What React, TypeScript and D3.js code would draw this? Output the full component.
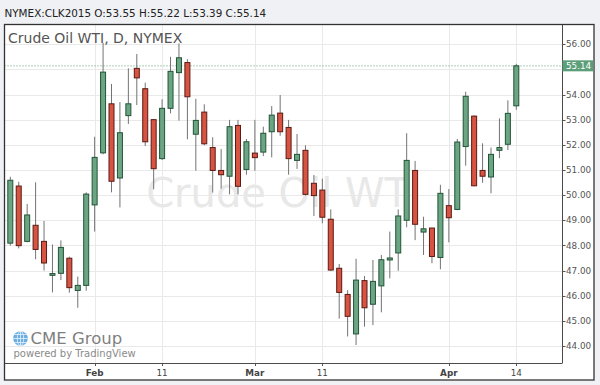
import React from "react";
import * as d3 from "d3";

// OHLC series (index-based trading days)
const opens = [48.09, 50.36, 48.16, 48.80, 48.16, 46.81, 46.89, 47.49, 46.21, 46.41,
  49.61, 51.68, 53.63, 50.68, 53.16, 55.04, 54.23, 53.00, 51.45, 53.45,
  54.87, 55.27, 52.42, 53.30, 51.89, 50.98, 50.75, 52.77, 51.02, 51.67,
  51.71, 52.52, 53.26, 52.69, 51.38, 51.78, 50.47, 50.20, 49.04, 47.09,
  46.05, 44.48, 46.60, 45.66, 46.39, 47.42, 47.70, 49.00, 50.98, 48.53,
  48.69, 47.52, 49.58, 49.43, 51.93, 53.14, 50.98, 50.72, 51.78, 52.02, 53.55];
const highs = [50.73, 50.53, 49.65, 50.51, 48.97, 48.04, 48.20, 47.55, 46.76, 50.11,
  52.32, 56.05, 54.42, 53.70, 55.04, 55.61, 54.47, 53.02, 53.81, 55.50,
  56.03, 55.40, 53.83, 53.61, 52.30, 51.83, 52.99, 52.99, 52.23, 52.99,
  52.72, 53.54, 53.98, 52.99, 52.43, 51.98, 50.80, 50.65, 49.43, 47.26,
  46.22, 47.47, 46.78, 47.42, 47.62, 48.55, 49.43, 52.46, 51.36, 49.14,
  48.70, 50.41, 50.24, 52.23, 54.11, 53.17, 52.06, 51.89, 53.05, 53.77, 55.22];
const lows = [47.99, 47.88, 48.12, 47.45, 47.00, 46.13, 46.62, 46.12, 45.52, 46.20,
  48.55, 51.62, 50.11, 49.51, 52.83, 53.58, 51.95, 50.23, 51.40, 53.25,
  52.96, 52.22, 50.97, 51.98, 50.10, 50.26, 50.03, 50.03, 50.81, 50.97,
  51.55, 51.50, 52.36, 50.81, 51.04, 49.98, 49.17, 48.88, 46.99, 45.09,
  44.38, 44.04, 44.77, 44.83, 45.34, 46.69, 46.99, 48.72, 48.21, 47.62,
  47.29, 47.05, 48.12, 49.40, 51.17, 50.35, 50.49, 50.07, 51.47, 51.79, 53.39];
const closes = [50.59, 47.99, 49.21, 47.84, 47.30, 46.88, 47.92, 46.32, 46.41, 50.04,
  51.50, 54.89, 50.55, 52.48, 53.63, 54.66, 52.12, 51.05, 53.45, 54.92,
  55.46, 53.91, 52.97, 52.04, 50.98, 50.81, 52.72, 50.35, 52.12, 51.49,
  52.46, 53.18, 52.52, 51.45, 51.62, 50.03, 49.98, 49.12, 47.02, 46.13,
  45.18, 46.62, 45.52, 46.57, 47.43, 47.50, 49.17, 51.38, 48.84, 48.66,
  47.56, 50.07, 49.10, 52.11, 53.93, 50.37, 50.75, 51.62, 51.89, 53.25, 55.14];

const timeTickIndex = [10, 18, 29, 37, 52, 60];
const timeTickLabels = ["Feb", "11", "Mar", "11", "Apr", "14"];
const timeTickIsMonth = [true, false, true, false, true, false];
const priceTicks = [44, 45, 46, 47, 48, 49, 50, 51, 52, 53, 54, 55, 56];
const lastPrice = 55.14;
const headerText = "NYMEX:CLK2015 O:53.55 H:55.22 L:53.39 C:55.14";

const FONT = "DejaVu Sans";
const W = 600, H = 385;
const plotL = 4.5, plotR = 562.5, plotT = 24.5, plotB = 363;
const frameR = 594, frameB = 380;

export default function App() {
  const x = d3.scaleLinear().domain([0, opens.length - 1]).range([10.3, 516.3]);
  const y = d3.scaleLinear().domain([44, 56]).range([346, 44.2]);
  const bodyW = 5;
  const upFill = "#6ba583", upStroke = "#225437";
  const dnFill = "#d75442", dnStroke = "#5b1a13";
  const wick = "#737375";
  const lastY = y(lastPrice);

  return (
    <svg width={W} height={H} style={{ position: "absolute", left: 0, top: 0 }} fontFamily={FONT}>
      <rect x={0} y={0} width={W} height={H} fill="#eff1f4" />
      <text x={4.5} y={17} fontSize={10.4} fill="#222">{headerText}</text>
      <rect x={plotL} y={plotT} width={frameR - plotL} height={frameB - plotT} fill="#ffffff" />
      <defs>
        <clipPath id="plotclip">
          <rect x={plotL} y={plotT} width={plotR - plotL} height={plotB - plotT} />
        </clipPath>
      </defs>
      {/* grid */}
      <g stroke="#e9e9e9" strokeWidth={1}>
        {priceTicks.map((t) => (
          <line key={"h" + t} x1={plotL} x2={plotR} y1={Math.round(y(t)) + 0.5} y2={Math.round(y(t)) + 0.5} />
        ))}
        {timeTickIndex.map((i) => (
          <line key={"v" + i} x1={Math.round(x(i)) + 0.5} x2={Math.round(x(i)) + 0.5} y1={plotT} y2={plotB} />
        ))}
      </g>
      {/* watermark */}
      <text x={(plotL + plotR) / 2} y={207} textAnchor="middle" fontSize={40} fill="#e8e8e8">Crude Oil WTI</text>
      {/* legend */}
      <text x={8} y={43} fontSize={14} fill="#555">Crude Oil WTI, D, NYMEX</text>
      {/* last price line */}
      <line x1={plotL} x2={plotR} y1={lastY} y2={lastY} stroke="#5a9e77" strokeWidth={1} strokeDasharray="1,2" />
      {/* candles */}
      <g clipPath="url(#plotclip)">
        {opens.map((o, i) => {
          const c = closes[i];
          const up = c >= o;
          const cx = x(i);
          const top = y(Math.max(o, c));
          const bot = y(Math.min(o, c));
          return (
            <g key={i}>
              <line x1={cx} x2={cx} y1={y(highs[i])} y2={y(lows[i])} stroke={wick} strokeWidth={1} />
              <rect x={cx - bodyW / 2} y={top} width={bodyW} height={Math.max(bot - top, 1)}
                fill={up ? upFill : dnFill} stroke={up ? upStroke : dnStroke} strokeWidth={1} />
            </g>
          );
        })}
      </g>
      {/* CME logo */}
      <g>
        <circle cx={20.5} cy={338.5} r={7.3} fill="#6aaee2" />
        <g stroke="#ffffff" strokeWidth={0.8} fill="none" opacity={0.85}>
          <ellipse cx={20.5} cy={338.5} rx={3.2} ry={7.3} />
          <line x1={13.2} x2={27.8} y1={338.5} y2={338.5} />
          <line x1={14.5} x2={26.5} y1={334.5} y2={334.5} />
          <line x1={14.5} x2={26.5} y1={342.5} y2={342.5} />
          <line x1={20.5} x2={20.5} y1={331.2} y2={345.8} />
        </g>
        <text x={30.5} y={344} fontSize={16.5} fill="#7f7f7f">CME Group</text>
        <text x={13.5} y={357} fontSize={10} fill="#8a8a8a">powered by TradingView</text>
      </g>
      {/* frame & axes */}
      <g fill="none" stroke="#4a4a4a" strokeWidth={1}>
        <line x1={plotR} x2={plotR} y1={plotT} y2={plotB} />
        <line x1={plotL} x2={plotR} y1={plotB + 0.5} y2={plotB + 0.5} />
        <rect x={plotL} y={plotT} width={frameR - plotL} height={frameB - plotT} strokeWidth={1.3} stroke="#333" />
      </g>
      {/* price axis */}
      <g fontSize={8.8} fill="#555">
        {priceTicks.map((t) => (
          <g key={"p" + t}>
            <line x1={plotR} x2={plotR + 3} y1={Math.round(y(t)) + 0.5} y2={Math.round(y(t)) + 0.5} stroke="#555" />
            {Math.abs(y(t) - lastY) > 11 ? <text x={566} y={y(t) + 3.2}>{t.toFixed(2)}</text> : null}
          </g>
        ))}
      </g>
      <rect x={plotR} y={lastY - 5.5} width={frameR - plotR - 0.7} height={11} fill="#5b9e79" />
      <text x={566} y={lastY + 3.2} fontSize={8.8} fill="#ffffff">{lastPrice.toFixed(2)}</text>
      {/* time axis */}
      <g fontSize={8.8} fill="#444">
        {timeTickIndex.map((idx, k) => (
          <g key={"t" + k}>
            <line x1={Math.round(x(idx)) + 0.5} x2={Math.round(x(idx)) + 0.5} y1={plotB} y2={plotB + 3} stroke="#555" />
            <text x={x(idx)} y={376} textAnchor="middle" fontWeight={timeTickIsMonth[k] ? "bold" : "normal"}>{timeTickLabels[k]}</text>
          </g>
        ))}
      </g>
    </svg>
  );
}
